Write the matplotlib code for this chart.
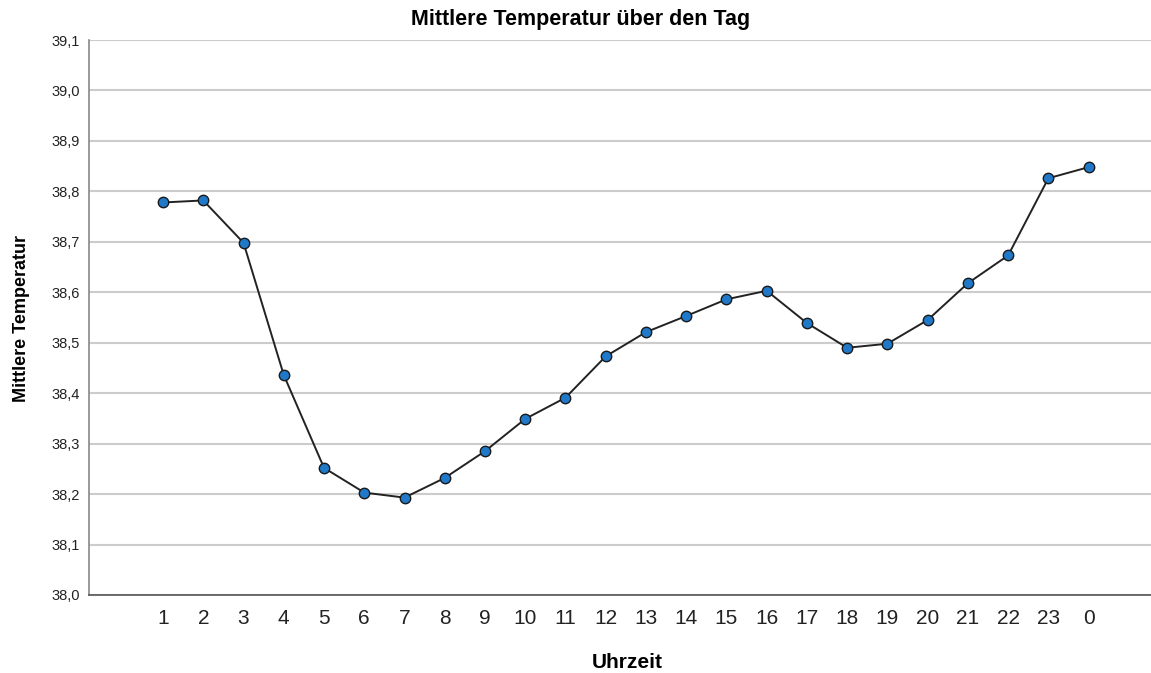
import matplotlib
matplotlib.use("Agg")
import matplotlib.pyplot as plt
from matplotlib.ticker import FuncFormatter, MultipleLocator

# mean temperature per hour
hours = ["1", "2", "3", "4", "5", "6", "7", "8", "9", "10", "11", "12",
         "13", "14", "15", "16", "17", "18", "19", "20", "21", "22", "23", "0"]
temps = [38.778, 38.782, 38.698, 38.436, 38.252, 38.203, 38.193, 38.232,
         38.285, 38.349, 38.391, 38.473, 38.521, 38.553, 38.586, 38.603,
         38.539, 38.490, 38.498, 38.545, 38.618, 38.673, 38.826, 38.848]

plt.rcParams["font.family"] = ["Liberation Sans", "DejaVu Sans"]

fig = plt.figure(figsize=(11.51, 6.73), dpi=100)
ax = fig.add_axes([89 / 1151, 78 / 673, (1151 - 89) / 1151, 555 / 673])

x = list(range(len(hours)))
ax.plot(x, temps, color="#222222", linewidth=1.4, marker="o", markersize=7.5,
        markerfacecolor="#1f78c8", markeredgecolor="#1a1a1a", markeredgewidth=1.0,
        zorder=3)

ax.set_ylim(38.0, 39.1)
ax.set_xlim(-1.84, 23 + 1.55)
ax.yaxis.set_major_locator(MultipleLocator(0.1))
ax.yaxis.set_major_formatter(FuncFormatter(lambda v, p: f"{v:.1f}".replace(".", ",")))
ax.grid(axis="y", color="#cccccc", linewidth=1.5)
ax.set_axisbelow(True)

ax.set_xticks(x)
ax.set_xticklabels(hours, fontsize=15, color="#222222")
ax.tick_params(axis="x", length=0, pad=10)
ax.tick_params(axis="y", length=0, pad=6.5, labelsize=10.5, labelcolor="#222222")

for side in ["top", "right"]:
    ax.spines[side].set_visible(False)
ax.spines["left"].set_color("#888888")
ax.spines["left"].set_linewidth(1.2)
ax.spines["bottom"].set_color("#555555")
ax.spines["bottom"].set_linewidth(1.2)

fig.text(581 / 1151, 1 - 20 / 673, "Mittlere Temperatur über den Tag",
         ha="center", va="center", fontsize=15.5, fontweight="bold")
fig.text(627 / 1151, 1 - 662 / 673, "Uhrzeit", ha="center", va="center",
         fontsize=15, fontweight="bold")
fig.text(22 / 1151, 1 - 318 / 673, "Mittlere Temperatur", ha="center", va="center",
         rotation=90, fontsize=13, fontweight="bold")

fig.savefig("out.png", dpi=100)
